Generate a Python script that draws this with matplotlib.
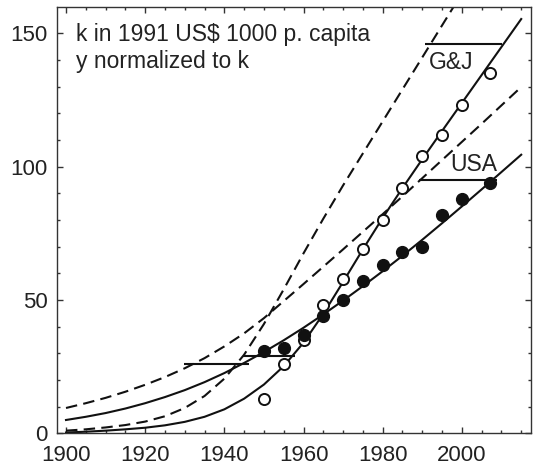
import numpy as np
import matplotlib
matplotlib.use('Agg')
import matplotlib.pyplot as plt
from matplotlib.ticker import MultipleLocator

plt.rcParams['font.family'] = ['Liberation Sans', 'DejaVu Sans']

# observed capital stock (k in 1991 US$ 1000 per capita)
years_obs = [1950, 1955, 1960, 1965, 1970, 1975, 1980, 1985, 1990, 1995, 2000, 2007]
gj_obs = [13, 26, 35, 48, 58, 69, 80, 92, 104, 112, 123, 135]
usa_obs = [31, 32, 37, 44, 50, 57, 63, 68, 70, 82, 88, 94]

# fitted curves, every 5 years
years_fit = [1900, 1905, 1910, 1915, 1920, 1925, 1930, 1935, 1940, 1945, 1950, 1955,
             1960, 1965, 1970, 1975, 1980, 1985, 1990, 1995, 2000, 2005, 2010, 2015]
gj_fit = [0.3, 0.6, 1.0, 1.5, 2.1, 3.0, 4.3, 6.2, 9.0, 13.0, 18.3, 25.2,
          34.0, 44.8, 56.8, 69.0, 80.8, 92.0, 102.8, 113.4, 123.9, 134.4, 144.9, 155.4]
usa_fit = [5.0, 6.2, 7.6, 9.3, 11.3, 13.6, 16.2, 19.2, 22.6, 26.4, 30.5, 34.9,
           39.6, 44.6, 49.8, 55.2, 60.8, 66.6, 72.6, 78.8, 85.1, 91.5, 98.0, 104.5]
gj_dash = [1.0, 1.5, 2.2, 3.1, 4.4, 6.4, 9.5, 14.0, 20.5, 29.5, 41.0, 54.0,
           67.5, 80.5, 93.0, 105.0, 117.0, 129.0, 141.0, 153.0, 165.0, 177.0, 189.0, 201.0]
usa_dash = [9.5, 11.3, 13.3, 15.6, 18.2, 21.1, 24.4, 28.2, 32.6, 37.5, 43.2, 49.6,
            56.0, 62.5, 69.0, 75.6, 82.2, 88.9, 95.7, 102.5, 109.3, 116.1, 123.0, 129.9]

# horizontal markers: (y, x_start, x_end)
hbars = [(146, 1990.6, 2010.2), (95, 1989.1, 2009.0),
         (29, 1944.8, 1957.8), (26, 1929.9, 1946.3)]

fig = plt.figure(figsize=(5.33, 4.68), dpi=100)
ax = fig.add_axes([0.1075, 0.0741, 0.8882, 0.9103])

ink = '#111111'
dash = (0, (5.5, 3))
ax.plot(years_fit, gj_fit, color=ink, lw=1.5)
ax.plot(years_fit, usa_fit, color=ink, lw=1.5)
ax.plot(years_fit, gj_dash, color=ink, lw=1.5, linestyle=dash)
ax.plot(years_fit, usa_dash, color=ink, lw=1.5, linestyle=dash)

for y, x0, x1 in hbars:
    ax.plot([x0, x1], [y, y], color=ink, lw=1.5, solid_capstyle='butt')

ax.plot(years_obs, gj_obs, 'o', ms=8, mfc='white', mec=ink, mew=1.4, zorder=5)
ax.plot(years_obs, usa_obs, 'o', ms=8.5, mfc=ink, mec=ink, zorder=5)

txt = dict(fontsize=16.5, color='#222222')
ax.text(1902.4, 149.7, 'k in 1991 US$ 1000 p. capita', va='center', ha='left', **txt)
ax.text(1902.4, 139.6, 'y normalized to k', va='center', ha='left', **txt)
ax.text(1997.4, 139.0, 'G&J', ha='center', va='center', **txt)
ax.text(2003.0, 100.9, 'USA', ha='center', va='center', **txt)

ax.set_xlim(1897.8, 2017.4)
ax.set_ylim(0, 159.8)
ax.xaxis.set_major_locator(MultipleLocator(20))
ax.xaxis.set_minor_locator(MultipleLocator(5))
ax.yaxis.set_major_locator(MultipleLocator(50))
ax.yaxis.set_minor_locator(MultipleLocator(10))
ax.tick_params(which='both', direction='in', top=True, right=True,
               labelsize=16, colors='#333333', labelcolor='#222222', width=1)
ax.tick_params(which='major', length=4)
ax.tick_params(axis='x', which='major', pad=8.5)
ax.tick_params(axis='y', which='major', pad=7)
ax.tick_params(which='minor', length=2.5)
for s in ax.spines.values():
    s.set_color('#333333')
    s.set_linewidth(1)

fig.savefig('out.png', dpi=100)
